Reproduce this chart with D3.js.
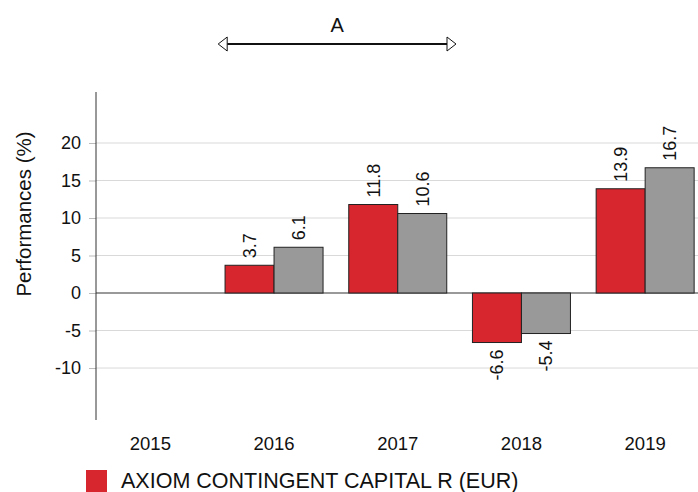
<!DOCTYPE html>
<html><head><meta charset="utf-8">
<script src="https://cdn.jsdelivr.net/npm/d3@7"></script>
<style>body{margin:0;background:#fff}svg{display:block;font-family:"Liberation Sans",Arial,sans-serif}</style>
</head><body><svg id="c" width="698" height="492"></svg>
<script>
const years = ["2015","2016","2017","2018","2019"];
const fund = [null, 3.7, 11.8, -6.6, 13.9];
const bench = [null, 6.1, 10.6, -5.4, 16.7];
const yTicks = [-10, -5, 0, 5, 10, 15, 20];
const legendLabel = "AXIOM CONTINGENT CAPITAL R (EUR)";
const periodLabel = "A";
const periodYears = ["2016","2017"];

const svg = d3.select("#c");
const W = 698;
const axisX = 96;
const x = d3.scaleBand().domain(years).range([88.5, 707]);
const y = d3.scaleLinear().domain([-16.93, 26.8]).range([420, 92]);
const barW = 49;
const fmt1 = v => d3.format(".1f")(v).replace("\u2212", "-");
const fmt0 = v => String(v);

// gridlines
svg.append("g").selectAll("line").data(yTicks).join("line")
  .attr("x1", axisX).attr("x2", W).attr("y1", d=>y(d)).attr("y2", d=>y(d))
  .attr("stroke", d=> d===0 ? "#777" : "#d9d9d9").attr("stroke-width", d=> d===0?1.5:1);

// y axis
const ax = svg.append("g").attr("transform", `translate(${axisX},0)`)
  .call(d3.axisLeft(y).tickValues(yTicks).tickSize(7).tickPadding(8).tickFormat(fmt0));
ax.select(".domain").remove();
ax.selectAll(".tick line").attr("stroke", "#bbb");
ax.selectAll(".tick text").attr("font-size", 18).attr("fill", "#111").attr("font-family", "Liberation Sans, Arial, sans-serif");
svg.append("line").attr("x1", axisX).attr("x2", axisX).attr("y1", y.range()[1]).attr("y2", y.range()[0]).attr("stroke", "#333");

svg.append("text").attr("transform", `translate(31,214) rotate(-90)`)
  .attr("text-anchor", "middle").attr("font-size", 20.5).attr("fill", "#111").text("Performances (%)");

// x labels
svg.append("g").selectAll("text").data(years).join("text")
  .attr("x", d=>x(d)+x.bandwidth()/2).attr("y", 450).attr("text-anchor", "middle")
  .attr("font-size", 18.5).attr("fill", "#111").text(d=>d);

const series = [{vals: fund, color: "#d7262e", off: -barW}, {vals: bench, color: "#999999", off: 0}];
series.forEach(s => {
  const data = years.map((yr,i)=>({yr, v: s.vals[i]})).filter(d=>d.v!==null);
  const g = svg.append("g");
  g.selectAll("rect").data(data).join("rect")
    .attr("x", d=>x(d.yr)+x.bandwidth()/2+s.off)
    .attr("width", barW)
    .attr("y", d=>y(Math.max(0,d.v)))
    .attr("height", d=>Math.abs(y(d.v)-y(0)))
    .attr("fill", s.color).attr("stroke", "#222").attr("stroke-width", 1);
  g.selectAll("text").data(data).join("text")
    .attr("transform", d=>{
      const cx = x(d.yr)+x.bandwidth()/2+s.off+barW/2;
      const ty = d.v>=0 ? y(d.v)-7 : y(d.v)+7;
      return `translate(${cx},${ty}) rotate(-90)`;
    })
    .attr("text-anchor", d=> d.v>=0 ? "start" : "end")
    .attr("dy", "0.36em").attr("font-size", 18).attr("fill", "#111")
    .text(d=>fmt1(d.v));
});

// period arrow
const ax1 = x(periodYears[0]) + 15, ax2 = x(periodYears[1]) + x.bandwidth() - 12.6;
const ay = 44;
svg.append("line").attr("x1", ax1).attr("x2", ax2).attr("y1", ay).attr("y2", ay).attr("stroke", "#111").attr("stroke-width", 2);
svg.append("path").attr("d", `M${ax1},${ay-7} L${ax1-9},${ay} L${ax1},${ay+7} Z`).attr("fill", "#fff").attr("stroke", "#111");
svg.append("path").attr("d", `M${ax2},${ay-7} L${ax2+9},${ay} L${ax2},${ay+7} Z`).attr("fill", "#fff").attr("stroke", "#111");
svg.append("text").attr("x", (ax1+ax2)/2).attr("y", 32).attr("text-anchor", "middle").attr("font-size", 20).attr("fill", "#111").text(periodLabel);

// legend
svg.append("rect").attr("x", 86).attr("y", 470).attr("width", 21).attr("height", 22).attr("fill", "#d7262e");
svg.append("text").attr("x", 121).attr("y", 488).attr("font-size", 21.5).attr("fill", "#111").text(legendLabel);
</script></body></html>
